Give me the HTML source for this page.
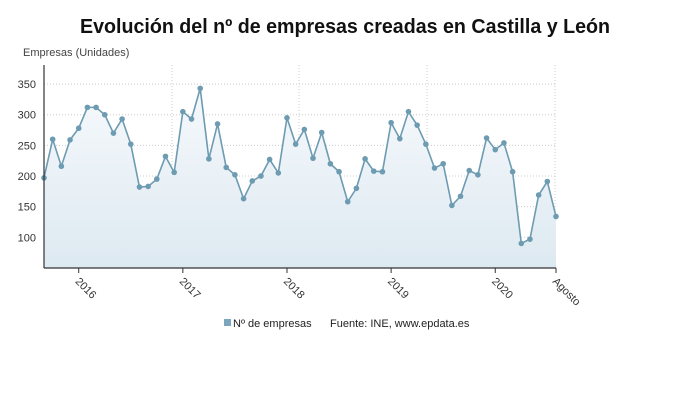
<!DOCTYPE html>
<html><head><meta charset="utf-8"><style>
body{margin:0;background:#fff;font-family:"Liberation Sans",sans-serif;}
svg{display:block}
</style></head><body>
<svg width="690" height="406" viewBox="0 0 690 406" xmlns="http://www.w3.org/2000/svg">
<defs><linearGradient id="g" x1="0" y1="0" x2="0" y2="1"><stop offset="0" stop-color="#f6f9fc"/><stop offset="1" stop-color="#dde9f1"/></linearGradient></defs>
<text x="345" y="33" text-anchor="middle" font-size="20" font-weight="bold" fill="#111" textLength="530" lengthAdjust="spacingAndGlyphs">Evolución del nº de empresas creadas en Castilla y León</text>
<text x="23" y="56" font-size="11" fill="#444">Empresas (Unidades)</text>
<g id="grid"></g>
<path id="area" fill="url(#g)"/>
<path id="line" fill="none" stroke="#6d9bb1" stroke-width="1.6"/>
<g id="pts"></g>
<line x1="44" y1="65" x2="44" y2="268" stroke="#333" stroke-width="1.2"/>
<line x1="44" y1="268" x2="556" y2="268" stroke="#333" stroke-width="1.2"/>
<g id="ylab"></g><g id="xlab"></g>
<rect x="224" y="319" width="7" height="7" fill="#7ba6bd"/>
<text x="233" y="327" font-size="11" fill="#222">Nº de empresas</text>
<text x="330" y="327" font-size="11" fill="#222">Fuente: INE, www.epdata.es</text>
</svg>
<script>
const values=[197,260,216,259,278,312,312,300,270,293,252,182,183,195,232,206,305,293,343,228,285,214,202,163,192,200,227,205,295,252,276,229,271,220,207,158,180,228,208,207,287,261,305,283,252,213,220,152,167,209,202,262,243,254,207,90,97,169,191,134];
const yTicks=[100,150,200,250,300,350];
const xLabels=["2016","2017","2018","2019","2020","Agosto"];
const xLabelIdx=[4,16,28,40,52,59];
const NS="http://www.w3.org/2000/svg";
const x=i=>44+i*(512/(values.length-1));
const y=v=>237.3-(v-100)*0.6128;
function mk(t,a,p){const e=document.createElementNS(NS,t);for(const k in a)e.setAttribute(k,a[k]);document.getElementById(p).appendChild(e);return e;}
yTicks.forEach(t=>{
 const l=mk('line',{x1:44,x2:556,y1:y(t),y2:y(t),stroke:'#ccc','stroke-dasharray':'1,2'},'grid');
 
 
 const tx=mk('text',{x:36,y:y(t)+4,'text-anchor':'end','font-size':11,fill:'#333'},'ylab');tx.textContent=t;
 
 
});
[172,299,427,555].forEach(xx=>{
 const l=mk('line',{x1:xx,x2:xx,y1:65,y2:268,stroke:'#ccc','stroke-dasharray':'1,2'},'grid');
 
 
});
let d='';values.forEach((v,i)=>{d+=(i?'L':'M')+x(i)+','+y(v);});
document.getElementById('line').setAttribute('d',d);
document.getElementById('area').setAttribute('d',d+'L'+x(values.length-1)+',268L44,268Z');
values.forEach((v,i)=>{
 const c=mk('circle',{cx:x(i),cy:y(v),r:2.8,fill:'#6d9bb1'},'pts');
 
 
});
xLabels.forEach((s,k)=>{
 const xx=x(xLabelIdx[k]);
 const tk=mk('line',{x1:xx,x2:xx,y1:268,y2:273,stroke:'#333'},'xlab');
 
 
 const t=mk('text',{x:xx-4,y:282,'font-size':11,fill:'#333',transform:`rotate(45 ${xx-4} 282)`},'xlab');t.textContent=s;
 
 
});
</script>
</body></html>
